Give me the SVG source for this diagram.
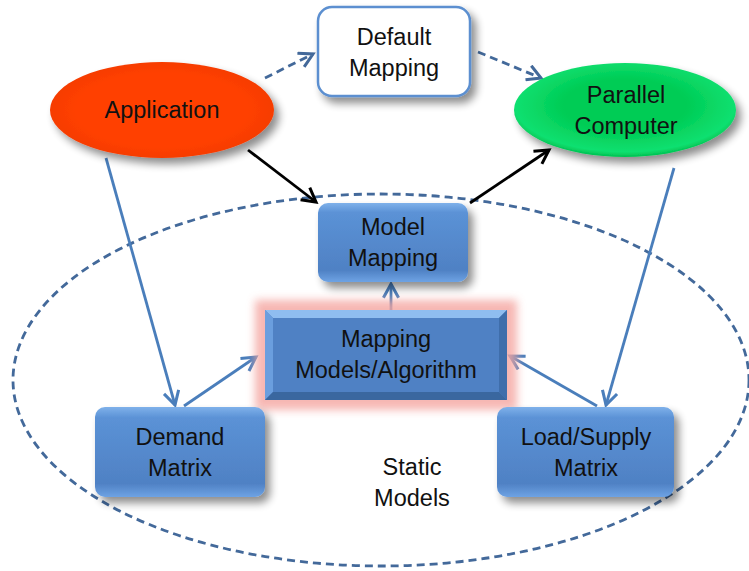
<svg xmlns="http://www.w3.org/2000/svg" width="749" height="571" viewBox="0 0 749 571">
<style>
  text { font-family: "Liberation Sans", Arial, sans-serif; font-size: 23.5px; fill: #111; text-anchor: middle; }
  .dash { fill: none; stroke: #43699a; stroke-width: 2.8; stroke-dasharray: 8 5; }
  .blue { fill: none; stroke: #4a7ebb; stroke-width: 2.8; }
  .blk { fill: none; stroke: #000; stroke-width: 2.8; }
  .box { fill: url(#gBlue); }
</style>
<defs>
  <filter id="sh" x="-20%" y="-20%" width="150%" height="160%">
    <feGaussianBlur in="SourceAlpha" stdDeviation="4"/>
    <feOffset dx="5" dy="6" result="b"/>
    <feComponentTransfer><feFuncA type="linear" slope="0.45"/></feComponentTransfer>
    <feMerge><feMergeNode/><feMergeNode in="SourceGraphic"/></feMerge>
  </filter>
  <filter id="glow" x="-20%" y="-30%" width="140%" height="160%">
    <feGaussianBlur stdDeviation="4"/>
  </filter>
  <linearGradient id="gBlue" x1="0" y1="0" x2="0" y2="1">
    <stop offset="0" stop-color="#7fb1ea"/>
    <stop offset="0.12" stop-color="#5b92d6"/>
    <stop offset="0.85" stop-color="#4f81c4"/>
    <stop offset="1" stop-color="#6ea3e4"/>
  </linearGradient>
  <radialGradient id="gRed" cx="0.5" cy="0.5" r="0.55">
    <stop offset="0.7" stop-color="#ff4000"/>
    <stop offset="1" stop-color="#f23a00"/>
  </radialGradient>
  <radialGradient id="gGreen" cx="0.5" cy="0.45" r="0.55">
    <stop offset="0.5" stop-color="#00cc55"/>
    <stop offset="0.9" stop-color="#10e070"/>
    <stop offset="1" stop-color="#00c050"/>
  </radialGradient>
  <marker id="ab" viewBox="0 0 12 12" refX="10" refY="6" markerWidth="6.5" markerHeight="6.5" orient="auto" markerUnits="strokeWidth">
    <path d="M1,1 L10,6 L1,11" fill="none" stroke="#4a7ebb" stroke-width="2"/>
  </marker>
  <marker id="ad" viewBox="0 0 12 12" refX="10" refY="6" markerWidth="6.5" markerHeight="6.5" orient="auto" markerUnits="strokeWidth">
    <path d="M1,1 L10,6 L1,11" fill="none" stroke="#43699a" stroke-width="2"/>
  </marker>
  <marker id="ak" viewBox="0 0 12 12" refX="10" refY="6" markerWidth="6.5" markerHeight="6.5" orient="auto" markerUnits="strokeWidth">
    <path d="M1,1 L10,6 L1,11" fill="none" stroke="#000" stroke-width="2"/>
  </marker>
</defs>
<rect width="749" height="571" fill="#fff"/>

<g id="static-models">
  <ellipse cx="381" cy="380" rx="368" ry="186" class="dash"/>
  <text x="412" y="475">Static</text>
  <text x="412" y="506">Models</text>
</g>

<g id="connectors">
  <path d="M265,78 L313,54" class="dash" marker-end="url(#ad)"/>
  <path d="M478,52 L541,78" class="dash" marker-end="url(#ad)"/>
  <path d="M106,158 L175,405" class="blue" marker-end="url(#ab)"/>
  <path d="M184,406 L256,357" class="blue" marker-end="url(#ab)"/>
  <path d="M597,406 L510,356" class="blue" marker-end="url(#ab)"/>
  <path d="M674,168 L606,405" class="blue" marker-end="url(#ab)"/>
  <path d="M391,310 L391,284" class="blue" marker-end="url(#ab)"/>
  <path d="M248,150 L316,202" class="blk" marker-end="url(#ak)"/>
  <path d="M470,203 L549,150" class="blk" marker-end="url(#ak)"/>
</g>

<g id="default-mapping">
  <rect x="318" y="7" width="152" height="89" rx="14" fill="#fff" stroke="#5b8fd0" stroke-width="2.5" filter="url(#sh)"/>
  <text x="394" y="45">Default</text>
  <text x="394" y="76">Mapping</text>
</g>

<g id="application">
  <ellipse cx="162" cy="110" rx="112" ry="48" fill="url(#gRed)" filter="url(#sh)"/>
  <text x="162" y="118">Application</text>
</g>

<g id="parallel-computer">
  <ellipse cx="625" cy="110" rx="111" ry="47" fill="url(#gGreen)" filter="url(#sh)"/>
  <text x="626" y="103">Parallel</text>
  <text x="626" y="134">Computer</text>
</g>

<g id="model-mapping">
  <rect x="318" y="203" width="150" height="79" rx="10" class="box" filter="url(#sh)"/>
  <text x="393" y="235">Model</text>
  <text x="393" y="266">Mapping</text>
</g>

<g id="mapping-models">
  <rect x="255" y="300" width="262" height="110" fill="#f4a5a0" opacity="0.8" filter="url(#glow)"/>
  <rect x="265" y="310" width="242" height="90" fill="#4f81c4"/>
  <path d="M265,310 L507,310 L499,318 L273,318 Z" fill="#8fbdf0"/>
  <path d="M265,310 L273,318 L273,392 L265,400 Z" fill="#6a9ede"/>
  <path d="M507,310 L507,400 L499,392 L499,318 Z" fill="#3f6eab"/>
  <path d="M265,400 L273,392 L499,392 L507,400 Z" fill="#3a679f"/>
  <text x="386" y="347">Mapping</text>
  <text x="386" y="378">Models/Algorithm</text>
</g>

<g id="demand-matrix">
  <rect x="95" y="407" width="170" height="90" rx="10" class="box" filter="url(#sh)"/>
  <text x="180" y="445">Demand</text>
  <text x="180" y="476">Matrix</text>
</g>

<g id="load-supply-matrix">
  <rect x="497" y="407" width="177" height="90" rx="10" class="box" filter="url(#sh)"/>
  <text x="586" y="445">Load/Supply</text>
  <text x="586" y="476">Matrix</text>
</g>
</svg>
